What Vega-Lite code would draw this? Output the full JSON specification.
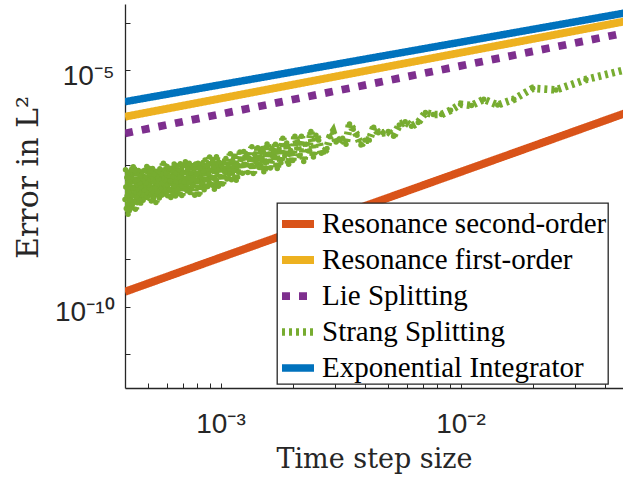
{
  "$schema": "https://vega.github.io/schema/vega-lite/v6.json",
  "width": 498,
  "height": 384,
  "autosize": {"type": "none"},
  "padding": {"left": 125, "top": 4, "right": 0, "bottom": 89},
  "background": "white",
  "config": {
    "view": {"stroke": null},
    "legend": {
      "orient": "none",
      "legendX": 152,
      "legendY": 199,
      "fillColor": "white",
      "strokeColor": "#262626",
      "strokeWidth": 1.3,
      "padding": 1,
      "rowPadding": -1.5,
      "symbolType": "stroke",
      "symbolSize": 1024,
      "labelFont": "Liberation Serif",
      "labelFontSize": 29,
      "labelColor": "black",
      "labelLimit": 500,
      "labelOffset": 4,
      "labelBaseline": "middle"
    }
  },
  "datasets": {
    "lines": [
      {"dt": 0.0004, "err": 2.07e-10, "method": "Resonance second-order"},
      {"dt": 0.001, "err": 1.09e-9, "method": "Resonance second-order"},
      {"dt": 0.01, "err": 7.02e-8, "method": "Resonance second-order"},
      {"dt": 0.05, "err": 1.29e-6, "method": "Resonance second-order"},
      {"dt": 0.0004, "err": 1.03e-6, "method": "Resonance first-order"},
      {"dt": 0.001, "err": 2.5e-6, "method": "Resonance first-order"},
      {"dt": 0.01, "err": 2.32e-5, "method": "Resonance first-order"},
      {"dt": 0.05, "err": 1.1e-4, "method": "Resonance first-order"},
      {"dt": 0.0004, "err": 4.59e-7, "method": "Lie Splitting"},
      {"dt": 0.001, "err": 1.17e-6, "method": "Lie Splitting"},
      {"dt": 0.01, "err": 1.22e-5, "method": "Lie Splitting"},
      {"dt": 0.05, "err": 6.27e-5, "method": "Lie Splitting"},
      {"dt": 0.0004, "err": 2.14e-6, "method": "Exponential Integrator"},
      {"dt": 0.001, "err": 4.88e-6, "method": "Exponential Integrator"},
      {"dt": 0.01, "err": 3.87e-5, "method": "Exponential Integrator"},
      {"dt": 0.05, "err": 1.65e-4, "method": "Exponential Integrator"}
    ],
    "strang": [
      {"dt": 0.05, "err": 1.05e-5, "method": "Strang Splitting"},
      {"dt": 0.03333, "err": 6.3e-6, "method": "Strang Splitting"},
      {"dt": 0.025, "err": 3.8e-6, "method": "Strang Splitting"},
      {"dt": 0.02, "err": 4.1e-6, "method": "Strang Splitting"},
      {"dt": 0.01667, "err": 2.4e-6, "method": "Strang Splitting"},
      {"dt": 0.01429, "err": 1.82e-6, "method": "Strang Splitting"},
      {"dt": 0.0125, "err": 2.4e-6, "method": "Strang Splitting"},
      {"dt": 0.01111, "err": 1.78e-6, "method": "Strang Splitting"},
      {"dt": 0.01, "err": 1.9e-6, "method": "Strang Splitting"},
      {"dt": 0.009091, "err": 1.41e-6, "method": "Strang Splitting"},
      {"dt": 0.008333, "err": 1.15e-6, "method": "Strang Splitting"},
      {"dt": 0.007692, "err": 1.15e-6, "method": "Strang Splitting"},
      {"dt": 0.007143, "err": 1.26e-6, "method": "Strang Splitting"},
      {"dt": 0.006667, "err": 7.8e-7, "method": "Strang Splitting"},
      {"dt": 0.00625, "err": 6.5e-7, "method": "Strang Splitting"},
      {"dt": 0.005882, "err": 8.1e-7, "method": "Strang Splitting"},
      {"dt": 0.005556, "err": 6.9e-7, "method": "Strang Splitting"},
      {"dt": 0.005263, "err": 4.0e-7, "method": "Strang Splitting"},
      {"dt": 0.005, "err": 5.0e-7, "method": "Strang Splitting"},
      {"dt": 0.004762, "err": 4.7e-7, "method": "Strang Splitting"},
      {"dt": 0.004545, "err": 4.7e-7, "method": "Strang Splitting"},
      {"dt": 0.004348, "err": 6.2e-7, "method": "Strang Splitting"},
      {"dt": 0.004167, "err": 3.3e-7, "method": "Strang Splitting"},
      {"dt": 0.004, "err": 3.3e-7, "method": "Strang Splitting"},
      {"dt": 0.003846, "err": 2.6e-7, "method": "Strang Splitting"},
      {"dt": 0.003704, "err": 4.2e-7, "method": "Strang Splitting"},
      {"dt": 0.003571, "err": 5.6e-7, "method": "Strang Splitting"},
      {"dt": 0.003448, "err": 7.2e-7, "method": "Strang Splitting"},
      {"dt": 0.003333, "err": 2.7e-7, "method": "Strang Splitting"},
      {"dt": 0.003226, "err": 3.6e-7, "method": "Strang Splitting"},
      {"dt": 0.003125, "err": 3.3e-7, "method": "Strang Splitting"},
      {"dt": 0.00303, "err": 3.0e-7, "method": "Strang Splitting"},
      {"dt": 0.002941, "err": 4.9e-7, "method": "Strang Splitting"},
      {"dt": 0.002857, "err": 3.9e-7, "method": "Strang Splitting"},
      {"dt": 0.002778, "err": 2.2e-7, "method": "Strang Splitting"},
      {"dt": 0.002703, "err": 1.86e-7, "method": "Strang Splitting"},
      {"dt": 0.002632, "err": 1.74e-7, "method": "Strang Splitting"},
      {"dt": 0.002564, "err": 3.3e-7, "method": "Strang Splitting"},
      {"dt": 0.0025, "err": 4.17e-7, "method": "Strang Splitting"},
      {"dt": 0.002439, "err": 1.45e-7, "method": "Strang Splitting"},
      {"dt": 0.002381, "err": 5.0e-7, "method": "Strang Splitting"},
      {"dt": 0.002326, "err": 1.95e-7, "method": "Strang Splitting"},
      {"dt": 0.002273, "err": 2.69e-7, "method": "Strang Splitting"},
      {"dt": 0.002222, "err": 1.17e-7, "method": "Strang Splitting"},
      {"dt": 0.002174, "err": 3.98e-7, "method": "Strang Splitting"},
      {"dt": 0.002128, "err": 1.55e-7, "method": "Strang Splitting"},
      {"dt": 0.002083, "err": 2.82e-7, "method": "Strang Splitting"},
      {"dt": 0.002041, "err": 3.98e-7, "method": "Strang Splitting"},
      {"dt": 0.002, "err": 1.23e-7, "method": "Strang Splitting"},
      {"dt": 0.001961, "err": 2.0e-7, "method": "Strang Splitting"},
      {"dt": 0.001923, "err": 1.02e-7, "method": "Strang Splitting"},
      {"dt": 0.001887, "err": 2.88e-7, "method": "Strang Splitting"},
      {"dt": 0.001852, "err": 1.55e-7, "method": "Strang Splitting"},
      {"dt": 0.001818, "err": 3.63e-7, "method": "Strang Splitting"},
      {"dt": 0.001786, "err": 1.1e-7, "method": "Strang Splitting"},
      {"dt": 0.001754, "err": 2.14e-7, "method": "Strang Splitting"},
      {"dt": 0.001724, "err": 8.3e-8, "method": "Strang Splitting"},
      {"dt": 0.001695, "err": 2.69e-7, "method": "Strang Splitting"},
      {"dt": 0.001667, "err": 1.41e-7, "method": "Strang Splitting"},
      {"dt": 0.001639, "err": 2.19e-7, "method": "Strang Splitting"},
      {"dt": 0.001613, "err": 8.5e-8, "method": "Strang Splitting"},
      {"dt": 0.001587, "err": 1.66e-7, "method": "Strang Splitting"},
      {"dt": 0.001563, "err": 2.75e-7, "method": "Strang Splitting"},
      {"dt": 0.001538, "err": 1.1e-7, "method": "Strang Splitting"},
      {"dt": 0.001515, "err": 7.1e-8, "method": "Strang Splitting"},
      {"dt": 0.001493, "err": 2.19e-7, "method": "Strang Splitting"},
      {"dt": 0.001471, "err": 1.35e-7, "method": "Strang Splitting"},
      {"dt": 0.001449, "err": 8.7e-8, "method": "Strang Splitting"},
      {"dt": 0.001429, "err": 2.29e-7, "method": "Strang Splitting"},
      {"dt": 0.001408, "err": 1.12e-7, "method": "Strang Splitting"},
      {"dt": 0.001389, "err": 1.62e-7, "method": "Strang Splitting"},
      {"dt": 0.00137, "err": 6.5e-8, "method": "Strang Splitting"},
      {"dt": 0.001351, "err": 2.4e-7, "method": "Strang Splitting"},
      {"dt": 0.001333, "err": 9.3e-8, "method": "Strang Splitting"},
      {"dt": 0.001316, "err": 1.38e-7, "method": "Strang Splitting"},
      {"dt": 0.001299, "err": 6.8e-8, "method": "Strang Splitting"},
      {"dt": 0.001282, "err": 1.66e-7, "method": "Strang Splitting"},
      {"dt": 0.001266, "err": 1.02e-7, "method": "Strang Splitting"},
      {"dt": 0.00125, "err": 1.91e-7, "method": "Strang Splitting"},
      {"dt": 0.001235, "err": 6.6e-8, "method": "Strang Splitting"},
      {"dt": 0.00122, "err": 1.29e-7, "method": "Strang Splitting"},
      {"dt": 0.001205, "err": 1.86e-7, "method": "Strang Splitting"},
      {"dt": 0.00119, "err": 6.9e-8, "method": "Strang Splitting"},
      {"dt": 0.001176, "err": 1.0e-7, "method": "Strang Splitting"},
      {"dt": 0.001163, "err": 4.7e-8, "method": "Strang Splitting"},
      {"dt": 0.001149, "err": 1.51e-7, "method": "Strang Splitting"},
      {"dt": 0.001136, "err": 7.4e-8, "method": "Strang Splitting"},
      {"dt": 0.001124, "err": 1.23e-7, "method": "Strang Splitting"},
      {"dt": 0.001111, "err": 4.8e-8, "method": "Strang Splitting"},
      {"dt": 0.001099, "err": 1.7e-7, "method": "Strang Splitting"},
      {"dt": 0.001087, "err": 6.3e-8, "method": "Strang Splitting"},
      {"dt": 0.001075, "err": 9.3e-8, "method": "Strang Splitting"},
      {"dt": 0.001064, "err": 5.0e-8, "method": "Strang Splitting"},
      {"dt": 0.001053, "err": 1.35e-7, "method": "Strang Splitting"},
      {"dt": 0.001042, "err": 6.9e-8, "method": "Strang Splitting"},
      {"dt": 0.001031, "err": 1.1e-7, "method": "Strang Splitting"},
      {"dt": 0.00102, "err": 3.9e-8, "method": "Strang Splitting"},
      {"dt": 0.00101, "err": 9.1e-8, "method": "Strang Splitting"},
      {"dt": 0.001, "err": 5.6e-8, "method": "Strang Splitting"},
      {"dt": 0.00099, "err": 1.11e-7, "method": "Strang Splitting"},
      {"dt": 0.00098, "err": 3.49e-8, "method": "Strang Splitting"},
      {"dt": 0.000971, "err": 7.76e-8, "method": "Strang Splitting"},
      {"dt": 0.000962, "err": 1.47e-7, "method": "Strang Splitting"},
      {"dt": 0.000952, "err": 4.82e-8, "method": "Strang Splitting"},
      {"dt": 0.000943, "err": 3.02e-8, "method": "Strang Splitting"},
      {"dt": 0.000935, "err": 8.83e-8, "method": "Strang Splitting"},
      {"dt": 0.000926, "err": 1.27e-7, "method": "Strang Splitting"},
      {"dt": 0.000917, "err": 5.48e-8, "method": "Strang Splitting"},
      {"dt": 0.000909, "err": 3.94e-8, "method": "Strang Splitting"},
      {"dt": 0.000901, "err": 1.46e-7, "method": "Strang Splitting"},
      {"dt": 0.000893, "err": 6.44e-8, "method": "Strang Splitting"},
      {"dt": 0.000885, "err": 3.44e-8, "method": "Strang Splitting"},
      {"dt": 0.000877, "err": 9.59e-8, "method": "Strang Splitting"},
      {"dt": 0.00087, "err": 4.78e-8, "method": "Strang Splitting"},
      {"dt": 0.000862, "err": 1.25e-7, "method": "Strang Splitting"},
      {"dt": 0.000855, "err": 2.96e-8, "method": "Strang Splitting"},
      {"dt": 0.000847, "err": 7.4e-8, "method": "Strang Splitting"},
      {"dt": 0.00084, "err": 1.06e-7, "method": "Strang Splitting"},
      {"dt": 0.000833, "err": 4.0e-8, "method": "Strang Splitting"},
      {"dt": 0.000826, "err": 5.36e-8, "method": "Strang Splitting"},
      {"dt": 0.00082, "err": 8.41e-8, "method": "Strang Splitting"},
      {"dt": 0.000813, "err": 2.36e-8, "method": "Strang Splitting"},
      {"dt": 0.000806, "err": 1.07e-7, "method": "Strang Splitting"},
      {"dt": 0.0008, "err": 4.62e-8, "method": "Strang Splitting"},
      {"dt": 0.000794, "err": 4.59e-8, "method": "Strang Splitting"},
      {"dt": 0.000787, "err": 1.04e-7, "method": "Strang Splitting"},
      {"dt": 0.000781, "err": 2.26e-8, "method": "Strang Splitting"},
      {"dt": 0.000775, "err": 7.96e-8, "method": "Strang Splitting"},
      {"dt": 0.000769, "err": 4.99e-8, "method": "Strang Splitting"},
      {"dt": 0.000763, "err": 3.67e-8, "method": "Strang Splitting"},
      {"dt": 0.000758, "err": 9.57e-8, "method": "Strang Splitting"},
      {"dt": 0.000752, "err": 6.58e-8, "method": "Strang Splitting"},
      {"dt": 0.000746, "err": 2.59e-8, "method": "Strang Splitting"},
      {"dt": 0.000741, "err": 1.07e-7, "method": "Strang Splitting"},
      {"dt": 0.000735, "err": 4.06e-8, "method": "Strang Splitting"},
      {"dt": 0.00073, "err": 8.02e-8, "method": "Strang Splitting"},
      {"dt": 0.000725, "err": 2.82e-8, "method": "Strang Splitting"},
      {"dt": 0.000719, "err": 5.21e-8, "method": "Strang Splitting"},
      {"dt": 0.000714, "err": 1.16e-7, "method": "Strang Splitting"},
      {"dt": 0.000709, "err": 3.1e-8, "method": "Strang Splitting"},
      {"dt": 0.000704, "err": 4.24e-8, "method": "Strang Splitting"},
      {"dt": 0.000699, "err": 9.64e-8, "method": "Strang Splitting"},
      {"dt": 0.000694, "err": 6.61e-8, "method": "Strang Splitting"},
      {"dt": 0.00069, "err": 2.22e-8, "method": "Strang Splitting"},
      {"dt": 0.000685, "err": 3.5e-8, "method": "Strang Splitting"},
      {"dt": 0.00068, "err": 1.05e-7, "method": "Strang Splitting"},
      {"dt": 0.000676, "err": 5.46e-8, "method": "Strang Splitting"},
      {"dt": 0.000671, "err": 2.42e-8, "method": "Strang Splitting"},
      {"dt": 0.000667, "err": 7.59e-8, "method": "Strang Splitting"},
      {"dt": 0.000662, "err": 3.01e-8, "method": "Strang Splitting"},
      {"dt": 0.000658, "err": 9.46e-8, "method": "Strang Splitting"},
      {"dt": 0.000654, "err": 4.2e-8, "method": "Strang Splitting"},
      {"dt": 0.000649, "err": 2.19e-8, "method": "Strang Splitting"},
      {"dt": 0.000645, "err": 6.59e-8, "method": "Strang Splitting"},
      {"dt": 0.000641, "err": 1.04e-7, "method": "Strang Splitting"},
      {"dt": 0.000637, "err": 3.51e-8, "method": "Strang Splitting"},
      {"dt": 0.000633, "err": 2.41e-8, "method": "Strang Splitting"},
      {"dt": 0.000629, "err": 5.5e-8, "method": "Strang Splitting"},
      {"dt": 0.000625, "err": 7.55e-8, "method": "Strang Splitting"},
      {"dt": 0.000621, "err": 2.02e-8, "method": "Strang Splitting"},
      {"dt": 0.000617, "err": 4.51e-8, "method": "Strang Splitting"},
      {"dt": 0.000613, "err": 8.34e-8, "method": "Strang Splitting"},
      {"dt": 0.00061, "err": 2.94e-8, "method": "Strang Splitting"},
      {"dt": 0.000606, "err": 5.85e-8, "method": "Strang Splitting"},
      {"dt": 0.000602, "err": 2.21e-8, "method": "Strang Splitting"},
      {"dt": 0.000599, "err": 9.18e-8, "method": "Strang Splitting"},
      {"dt": 0.000595, "err": 3.63e-8, "method": "Strang Splitting"},
      {"dt": 0.000592, "err": 2.5e-8, "method": "Strang Splitting"},
      {"dt": 0.000588, "err": 6.55e-8, "method": "Strang Splitting"},
      {"dt": 0.000585, "err": 4.83e-8, "method": "Strang Splitting"},
      {"dt": 0.000581, "err": 3.03e-8, "method": "Strang Splitting"},
      {"dt": 0.000578, "err": 1.07e-7, "method": "Strang Splitting"},
      {"dt": 0.000575, "err": 2.33e-8, "method": "Strang Splitting"},
      {"dt": 0.000571, "err": 5.31e-8, "method": "Strang Splitting"},
      {"dt": 0.000568, "err": 2.25e-8, "method": "Strang Splitting"},
      {"dt": 0.000565, "err": 6.32e-8, "method": "Strang Splitting"},
      {"dt": 0.000562, "err": 3.15e-8, "method": "Strang Splitting"},
      {"dt": 0.000559, "err": 8.24e-8, "method": "Strang Splitting"},
      {"dt": 0.000556, "err": 1.97e-8, "method": "Strang Splitting"},
      {"dt": 0.000552, "err": 4.92e-8, "method": "Strang Splitting"},
      {"dt": 0.000549, "err": 7.08e-8, "method": "Strang Splitting"},
      {"dt": 0.000546, "err": 2.67e-8, "method": "Strang Splitting"},
      {"dt": 0.000543, "err": 3.59e-8, "method": "Strang Splitting"},
      {"dt": 0.000541, "err": 5.66e-8, "method": "Strang Splitting"},
      {"dt": 0.000538, "err": 1.59e-8, "method": "Strang Splitting"},
      {"dt": 0.000535, "err": 7.23e-8, "method": "Strang Splitting"},
      {"dt": 0.000532, "err": 3.13e-8, "method": "Strang Splitting"},
      {"dt": 0.000529, "err": 6.22e-8, "method": "Strang Splitting"},
      {"dt": 0.000526, "err": 1.96e-8, "method": "Strang Splitting"},
      {"dt": 0.000524, "err": 4.37e-8, "method": "Strang Splitting"},
      {"dt": 0.000521, "err": 8.28e-8, "method": "Strang Splitting"},
      {"dt": 0.000518, "err": 2.72e-8, "method": "Strang Splitting"},
      {"dt": 0.000515, "err": 1.71e-8, "method": "Strang Splitting"},
      {"dt": 0.000513, "err": 5.02e-8, "method": "Strang Splitting"},
      {"dt": 0.00051, "err": 7.23e-8, "method": "Strang Splitting"},
      {"dt": 0.000508, "err": 3.14e-8, "method": "Strang Splitting"},
      {"dt": 0.000505, "err": 2.26e-8, "method": "Strang Splitting"},
      {"dt": 0.000503, "err": 8.36e-8, "method": "Strang Splitting"},
      {"dt": 0.0005, "err": 3.72e-8, "method": "Strang Splitting"},
      {"dt": 0.000498, "err": 4.66e-8, "method": "Strang Splitting"},
      {"dt": 0.000495, "err": 2.02e-8, "method": "Strang Splitting"},
      {"dt": 0.000493, "err": 9.18e-8, "method": "Strang Splitting"},
      {"dt": 0.00049, "err": 2.58e-8, "method": "Strang Splitting"},
      {"dt": 0.000488, "err": 4.06e-8, "method": "Strang Splitting"},
      {"dt": 0.000485, "err": 5.46e-8, "method": "Strang Splitting"},
      {"dt": 0.000483, "err": 2.07e-8, "method": "Strang Splitting"},
      {"dt": 0.000481, "err": 2.96e-8, "method": "Strang Splitting"},
      {"dt": 0.000478, "err": 7.41e-8, "method": "Strang Splitting"},
      {"dt": 0.000476, "err": 1.77e-8, "method": "Strang Splitting"},
      {"dt": 0.000474, "err": 4.63e-8, "method": "Strang Splitting"},
      {"dt": 0.000472, "err": 2.31e-8, "method": "Strang Splitting"},
      {"dt": 0.000469, "err": 6.47e-8, "method": "Strang Splitting"},
      {"dt": 0.000467, "err": 3.46e-8, "method": "Strang Splitting"},
      {"dt": 0.000465, "err": 1.54e-8, "method": "Strang Splitting"},
      {"dt": 0.000463, "err": 5.69e-8, "method": "Strang Splitting"},
      {"dt": 0.000461, "err": 4.1e-8, "method": "Strang Splitting"},
      {"dt": 0.000459, "err": 1.78e-8, "method": "Strang Splitting"},
      {"dt": 0.000457, "err": 2.56e-8, "method": "Strang Splitting"},
      {"dt": 0.000455, "err": 7.52e-8, "method": "Strang Splitting"},
      {"dt": 0.000452, "err": 4.72e-8, "method": "Strang Splitting"},
      {"dt": 0.00045, "err": 1.56e-8, "method": "Strang Splitting"},
      {"dt": 0.000448, "err": 2.94e-8, "method": "Strang Splitting"},
      {"dt": 0.000446, "err": 6.56e-8, "method": "Strang Splitting"},
      {"dt": 0.000444, "err": 2.07e-8, "method": "Strang Splitting"},
      {"dt": 0.000442, "err": 1.14e-8, "method": "Strang Splitting"},
      {"dt": 0.000441, "err": 4.65e-8, "method": "Strang Splitting"},
      {"dt": 0.000439, "err": 7.45e-8, "method": "Strang Splitting"},
      {"dt": 0.000437, "err": 2.52e-8, "method": "Strang Splitting"},
      {"dt": 0.000435, "err": 1.65e-8, "method": "Strang Splitting"},
      {"dt": 0.000433, "err": 9.06e-8, "method": "Strang Splitting"},
      {"dt": 0.000431, "err": 3.16e-8, "method": "Strang Splitting"},
      {"dt": 0.000429, "err": 1.4e-8, "method": "Strang Splitting"},
      {"dt": 0.000427, "err": 5.36e-8, "method": "Strang Splitting"},
      {"dt": 0.000426, "err": 2.17e-8, "method": "Strang Splitting"},
      {"dt": 0.000424, "err": 7.6e-8, "method": "Strang Splitting"},
      {"dt": 0.000422, "err": 1.18e-8, "method": "Strang Splitting"},
      {"dt": 0.00042, "err": 3.89e-8, "method": "Strang Splitting"},
      {"dt": 0.000418, "err": 6.25e-8, "method": "Strang Splitting"},
      {"dt": 0.000417, "err": 1.77e-8, "method": "Strang Splitting"},
      {"dt": 0.000415, "err": 2.6e-8, "method": "Strang Splitting"},
      {"dt": 0.000413, "err": 4.71e-8, "method": "Strang Splitting"},
      {"dt": 0.000412, "err": 9.0e-9, "method": "Strang Splitting"},
      {"dt": 0.00041, "err": 6.47e-8, "method": "Strang Splitting"},
      {"dt": 0.000408, "err": 2.19e-8, "method": "Strang Splitting"},
      {"dt": 0.000407, "err": 5.36e-8, "method": "Strang Splitting"},
      {"dt": 0.000405, "err": 1.19e-8, "method": "Strang Splitting"},
      {"dt": 0.000403, "err": 3.38e-8, "method": "Strang Splitting"},
      {"dt": 0.000402, "err": 7.78e-8, "method": "Strang Splitting"},
      {"dt": 0.0004, "err": 1.84e-8, "method": "Strang Splitting"}
    ]
  },
  "encoding": {
    "x": {
      "field": "dt",
      "type": "quantitative",
      "scale": {"type": "log", "domain": [0.0004, 0.04753], "nice": false, "zero": false},
      "axis": {
        "orient": "bottom",
        "values": [0.0005, 0.0006, 0.0007, 0.0008, 0.0009, 0.001, 0.002, 0.003, 0.004, 0.005, 0.006, 0.007, 0.008, 0.009, 0.01, 0.02, 0.03, 0.04],
        "labelExpr": "abs(log(datum.value)/LN10 + 3) < 0.01 ? '10⁻³' : abs(log(datum.value)/LN10 + 2) < 0.01 ? '10⁻²' : ''",
        "tickSize": -5,
        "tickColor": "#262626",
        "tickWidth": 1,
        "domainColor": "#262626",
        "domainWidth": 1.3,
        "grid": false,
        "labelPadding": 49,
        "labelBaseline": "alphabetic",
        "labelFont": "Liberation Sans",
        "labelFontSize": 28,
        "labelColor": "#262626",
        "labelOverlap": false,
        "labelFlush": false,
        "labelBound": false,
        "title": "Time step size",
        "titleFont": "DejaVu Serif",
        "titleFontSize": 27,
        "titleFontWeight": "normal",
        "titleColor": "#262626",
        "titleBaseline": "alphabetic",
        "titleY": 79
      }
    },
    "y": {
      "field": "err",
      "type": "quantitative",
      "scale": {"type": "log", "domain": [1.914e-12, 2.48e-4], "nice": false, "zero": false},
      "axis": {
        "values": [0.0001, 0.00001, 0.000001, 1e-7, 1e-8, 1e-9, 1e-10, 1e-11],
        "labelExpr": "abs(log(datum.value)/LN10 + 5) < 0.01 ? '10⁻⁵' : abs(log(datum.value)/LN10 + 10) < 0.01 ? '10⁻¹⁰' : ''",
        "tickSize": -5,
        "tickColor": "#262626",
        "tickWidth": 1,
        "domainColor": "#262626",
        "domainWidth": 1.3,
        "grid": false,
        "labelPadding": 16,
        "labelBaseline": "alphabetic",
        "labelOffset": 14,
        "labelFont": "Liberation Sans",
        "labelFontSize": 28,
        "labelColor": "#262626",
        "labelOverlap": false,
        "labelFlush": false,
        "labelBound": false,
        "title": "Error in L²",
        "titleFont": "DejaVu Serif",
        "titleFontSize": 30,
        "titleFontWeight": "normal",
        "titleColor": "#262626",
        "titleAngle": -90,
        "titleAlign": "center",
        "titleBaseline": "alphabetic",
        "titleX": -88,
        "titleY": 173
      }
    }
  },
  "layer": [
    {
      "data": {"name": "lines"},
      "mark": {"type": "line", "clip": true, "strokeCap": "butt"},
      "encoding": {
        "color": {
          "field": "method",
          "type": "nominal",
          "title": null,
          "scale": {
            "domain": ["Resonance second-order", "Resonance first-order", "Lie Splitting", "Strang Splitting", "Exponential Integrator"],
            "range": ["#D95319", "#EDB120", "#7E2F8E", "#77AC30", "#0072BD"]
          }
        },
        "strokeDash": {
          "field": "method",
          "type": "nominal",
          "title": null,
          "scale": {
            "domain": ["Resonance second-order", "Resonance first-order", "Lie Splitting", "Strang Splitting", "Exponential Integrator"],
            "range": [[1, 0], [1, 0], [8, 9], [3, 4], [1, 0]]
          }
        },
        "strokeWidth": {
          "field": "method",
          "type": "nominal",
          "title": null,
          "scale": {
            "domain": ["Resonance second-order", "Resonance first-order", "Lie Splitting", "Strang Splitting", "Exponential Integrator"],
            "range": [8, 7.5, 8, 3, 6]
          }
        }
      }
    },
    {
      "data": {"name": "strang"},
      "mark": {"type": "line", "clip": true, "strokeCap": "butt"},
      "encoding": {
        "color": {"field": "method", "type": "nominal"},
        "strokeDash": {"field": "method", "type": "nominal"},
        "strokeWidth": {"field": "method", "type": "nominal"}
      }
    },
    {
      "data": {"name": "strang"},
      "mark": {"type": "circle", "opacity": 1},
      "encoding": {
        "color": {"field": "method", "type": "nominal"}
      }
    }
  ]
}
